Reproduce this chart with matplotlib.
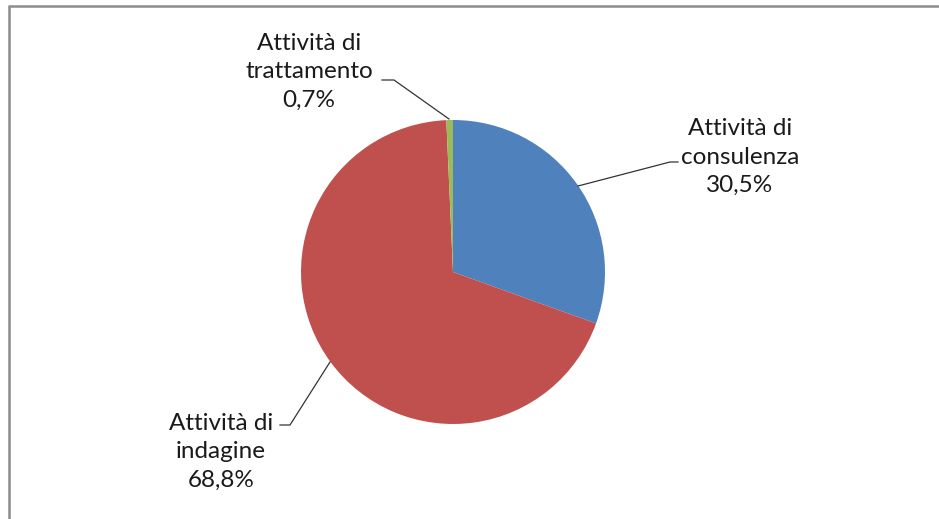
import matplotlib
matplotlib.use("Agg")
from matplotlib import pyplot as plt

categories = ["Attività di\nconsulenza", "Attività di\nindagine", "Attività di\ntrattamento"]
values = [30.5, 68.8, 0.7]
colors = ["#4F81BD", "#C0504D", "#9BBB59"]
pct_labels = ["30,5%", "68,8%", "0,7%"]

W, H = 939, 519
fig = plt.figure(figsize=(W / 100, H / 100), dpi=100)
ax = fig.add_axes([0, 0, 1, 1])

# pixel coords, y measured from the top
def py(y):
    return H - y

cx, cy, r = 453, 272, 152
ax.pie(values, colors=colors, startangle=90, counterclock=False,
       center=(cx, py(cy)), radius=r, wedgeprops=dict(linewidth=0))

ax.set_xlim(0, W)
ax.set_ylim(0, H)
ax.set_aspect("equal")
ax.axis("off")

# frame of the chart area (only top and left are visible)
ax.plot([8, W], [py(6), py(6)], color="#8c8c8c", lw=1.8, solid_capstyle="butt")
ax.plot([9, 9], [py(6), 0], color="#8c8c8c", lw=1.8, solid_capstyle="butt")

# label positions and leader lines
label_pos = [(740, 157), (221, 452), (309, 72)]
leaders = [
    [(678, 162), (670, 162), (578, 186)],
    [(280, 425), (290, 425), (330, 362)],
    [(382, 80), (394, 80), (449, 119)],
]

for cat, pct, (lx, ly), pts in zip(categories, pct_labels, label_pos, leaders):
    ax.text(lx, py(ly), cat + "\n" + pct, ha="center", va="center",
            fontsize=17.5, family="Lato", color="#1a1a1a", linespacing=1.45)
    ax.plot([p[0] for p in pts], [py(p[1]) for p in pts], color="#333333", lw=0.9)

fig.savefig("out.png", dpi=100, facecolor="white")
